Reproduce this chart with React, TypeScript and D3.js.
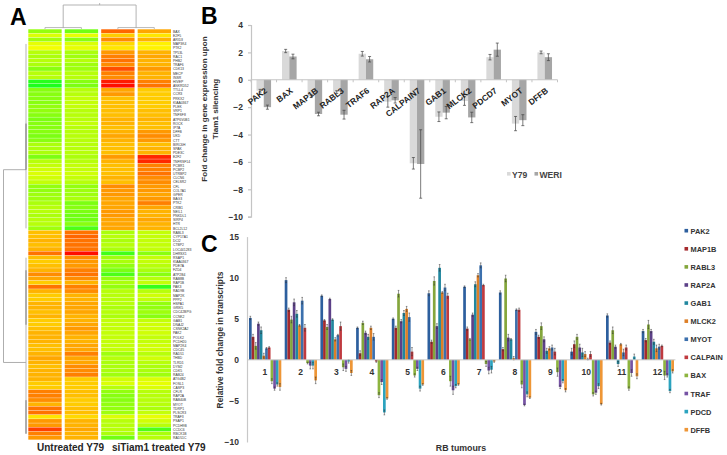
import React, { useRef, useEffect } from "react";
import * as d3 from "d3";

const FONT = "'Liberation Sans', Arial, sans-serif";

// panel A
const geneLabels = [
  "BAX", "E2F5", "ARID3", "MAP3K4", "PTK2", "TP53L", "RAC1", "PHB2", "TRAF6", "CDK13",
  "MECP", "INSR", "HIVEP", "ANKRD52", "TTLL4", "CCR3", "PRKX2", "KIAA0367", "PLEK", "VRP1",
  "TNFSF8", "ATP6V0B1", "ROCK", "IP7A", "DFFB", "UKD", "CTT", "BIRC6H", "SPAK", "PDE3C",
  "E2F2", "TNFRSF14", "PCBR1", "PCBP2", "UTRBP2", "CLCN6", "CELSR2", "CFL", "COL7A1", "GPER",
  "BAG3", "PTK2", "CRIB1", "NEIL1", "PNKDL1", "SIRP4", "HTR", "BCL2L12",
  "RABL3", "CYP17A1", "DCI2", "CTBP2", "LOC441283", "DHRSX1", "RSAP1", "KIAA0367", "PDE7A", "FZD4",
  "ATP2B4", "RAB8B", "RAP1B", "PAK3", "RAD9B", "MAP2K", "PPP2", "HSPA1", "GRIK5", "CDC42BPG",
  "CCNK2", "GAB1", "DNAJ2", "CSNK2A2", "PAK2", "POLK2", "PCDH20", "MAP2K4", "CDC45", "RAD51",
  "THBD", "TLRD1", "DYM2", "CDK5", "RAB24", "ATG4B2", "FOSL1", "CASP3", "CFLR", "RAP2A",
  "RAB40B", "MYOT", "TDRP1", "PLSCR3", "TRAF3", "PSAP1", "PCDH9B", "CCDC6", "RBCK1B", "RAD51C",
];
const heatUntreated1 = [
  -.45, -.15, -.4, -.1, -.05, -.3, -.35, -.3, -.35, -.5,
  -.3, -.3, -.9, -.95, -.5, -.5, -.5, -.5, -.45, -.45,
  -.5, -.55, -.5, -.5, -.5, -.55, -.5, -.35, -.35, -.35,
  -.55, -.3, -.25, -.2, -.15, -.2, -.25, -.45, -.45, -.4,
  -.4, -.35, -.3, -.3, -.35, -.3, -.3, -.4,
  .25, .25, .3, .25, .3, .55, .25, .2, .25, .3,
  .45, .35, .2, .55, .3, .2, .2, .3, .3, .25,
  .3, .2, .2, .25, .3, .3, .3, .25, .25, .3,
  .35, .3, .25, .3, .3, .3, .2, .2, .5, .5,
  .45, .3, .55, .55, .1, .4, .4, .75, .5, .4,
];
const heatUntreated2 = [
  -.6, -.1, -.5, -.15, -.1, -.35, -.4, -.3, -.4, -.4,
  -.3, -.3, -.5, -.55, -.3, -.3, -.25, -.25, -.25, -.3,
  -.3, -.3, -.25, -.3, -.3, -.3, -.3, -.3, -.3, -.3,
  -.35, -.3, -.25, -.25, -.2, -.25, -.3, -.45, -.4, -.4,
  -.35, -.55, -.5, -.55, -.6, -.6, -.5, -.75,
  .55, .6, .55, .55, .55, .95, .45, .4, .4, .5,
  .55, .45, .3, .5, .45, .3, .3, .35, .35, .35,
  .3, .3, .35, .4, .35, .3, .3, .35, .35, .5,
  .35, .35, .45, .45, .5, .2, .2, .2, .25, .25,
  .2, .2, .25, .25, .15, .3, .3, .35, .3, .3,
];
const heatTreated1 = [
  .6, .2, .45, .15, .1, .4, .5, .55, .45, .7,
  .5, .45, .9, .95, .35, .4, .25, .25, .25, .25,
  .25, .3, .3, .25, .3, .35, .3, .25, .25, .25,
  .4, .3, .25, .25, .25, .3, .25, .45, .4, .4,
  .35, .35, .35, .4, .4, .35, .35, .35,
  -.35, -.3, -.35, -.3, -.35, -.8, -.4, -.35, -.45, -.55,
  -.75, -.45, -.35, -.45, -.3, -.3, -.3, -.3, -.35, -.3,
  -.35, -.25, -.25, -.25, -.25, -.25, -.25, -.25, -.25, -.4,
  -.3, -.35, -.35, -.35, -.4, -.2, -.15, -.3, -.45, -.5,
  -.5, -.45, -.45, -.4, -.15, -.3, -.3, -.3, -.35, -.6,
];
const heatTreated2 = [
  .35, .1, .3, .05, .05, .3, .35, .3, .3, .4,
  .3, .3, .5, .55, .2, .2, .2, .2, .2, .25,
  .25, .3, .25, .25, .4, .45, .4, .25, .3, .3,
  .85, .85, .5, .5, .55, .45, .45, .4, .4, .35,
  .4, .5, .35, .3, .3, .35, .3, .3,
  -.25, -.25, -.25, -.25, -.25, -.5, -.25, -.25, -.3, -.35,
  -.5, -.3, -.25, -.85, -.3, -.2, -.25, -.45, -.45, -.4,
  -.5, -.25, -.2, -.2, -.2, -.25, -.25, -.2, -.2, -.3,
  -.2, -.3, -.35, -.35, -.4, -.15, -.1, -.15, -.3, -.3,
  -.3, -.3, -.35, -.25, -.1, -.2, -.3, -.75, -.35, -.3,
];
const heatColumns = [heatUntreated1, heatUntreated2, heatTreated1, heatTreated2];

// panel B
const silencedGenes = ["PAK2", "BAX", "MAP1B", "RABL3", "TRAF6", "RAP2A", "CALPAIN7", "GAB1", "MLCK2", "PDCD7", "MYOT", "DFFB"];
const y79Values = [-0.8, 2.1, -1.2, -0.9, 1.9, -1.6, -6.1, -2.7, -1.55, 1.65, -3.2, 2.0];
const y79Errors = [0.1, 0.12, 0.1, 0.1, 0.17, 0.4, 0.42, 0.35, 0.32, 0.2, 0.52, 0.1];
const weriValues = [-2.0, 1.7, -2.5, -2.55, 1.5, -1.5, -6.15, -2.4, -2.75, 2.2, -2.95, 1.65];
const weriErrors = [0.15, 0.17, 0.13, 0.32, 0.2, 0.2, 2.5, 0.45, 0.38, 0.48, 0.4, 0.25];

// panel C
const tumourLabels = ["1", "2", "3", "4", "5", "6", "7", "8", "9", "10", "11", "12"];
const transcriptGenes = ["PAK2", "MAP1B", "RABL3", "RAP2A", "GAB1", "MLCK2", "MYOT", "CALPAIN", "BAX", "TRAF", "PDCD", "DFFB"];
const transcriptColors = ["#2d5f9e", "#a52a2e", "#84a63c", "#5c4088", "#21879f", "#dd7f27", "#3c70ad", "#bf3a3f", "#8db43f", "#7653a4", "#2ba3bf", "#ee9636"];
const foldByTumour = [
  [5.1, 2.8, 1.7, 4.4, 3.6, 0.5, 1.4, 1.5, -2.6, -3.5, -3.0, -3.3],
  [9.7, 6.1, 4.9, 7.0, 5.6, 4.2, 7.2, 3.9, -0.4, -0.7, -0.7, -2.5],
  [7.8, 4.8, 4.0, 7.4, 4.9, 2.5, 3.0, 4.1, -0.9, -1.1, -0.2, -1.6],
  [3.9, 0.8, 4.5, 3.3, 2.8, 3.9, 2.8, -0.2, -4.3, -2.7, -6.4, -4.7],
  [5.0, 3.9, 8.05, 4.7, 5.7, 6.2, 5.2, 1.0, -1.9, -1.1, -3.5, -3.0],
  [8.1, 2.2, 9.6, 4.1, 11.2, 8.2, 8.8, 7.8, -2.6, -3.7, -3.2, -3.0],
  [8.9, 3.8, 2.5, 5.5, 9.2, 10.3, 11.5, 9.1, -0.5, -1.3, -1.2, -0.2],
  [8.2, 1.3, 9.9, 2.7, 2.5, 0.2, 6.1, 6.1, -3.0, -5.5, -4.2, -4.6],
  [3.4, 2.8, 4.1, 2.5, 1.1, 1.4, 1.5, 1.0, -1.5, -3.3, -2.6, -3.7],
  [1.0, 1.9, 2.8, 1.5, 0.9, 0.7, 0.1, 0.7, -4.2, -4.0, -3.2, -5.4],
  [5.4, 2.1, 3.6, 1.6, -0.5, 1.9, 0.9, 1.5, -3.5, -1.6, 0.4, -2.0],
  [3.5, 2.4, 4.3, 3.5, 2.2, 1.4, 1.6, 1.7, -1.9, -1.9, -3.8, -1.4],
];
const errorByTumour = [
  [.2, .3, .4, .2, .4, .3, .1, .1, .3, .2, .2, .4],
  [.3, .2, .4, .4, .4, .1, .4, .4, .1, .4, .4, .4],
  [.1, .1, .3, .1, .1, .2, .1, .5, .4, .3, .2, .3],
  [.1, .3, .2, .2, .3, .2, .4, .1, .3, .3, .3, .1],
  [.1, .2, .4, .2, .3, .3, .5, .5, .2, .2, .3, .1],
  [.3, .2, .5, .3, .4, .1, .4, .3, .6, .5, .2, .1],
  [.1, .2, .1, .2, .3, .2, .3, .1, .3, .4, .4, .1],
  [.2, .2, .4, .4, .1, .2, .1, .2, .4, .1, .3, .1],
  [.3, .2, .4, .3, .3, .2, .3, .4, .5, .2, .2, .2],
  [.4, .4, .3, .4, .5, .3, .1, .3, .2, .2, .3, .1],
  [.2, .2, .4, .2, .3, .1, .4, .3, .2, .4, .3, .3],
  [.2, .2, .5, .2, .3, .4, .3, .1, .5, .2, .2, .2],
];

export default function App() {
  const svgRef = useRef<SVGSVGElement | null>(null);

  useEffect(() => {
    const svg = d3.select(svgRef.current);
    svg.selectAll("*").remove();
    svg.style("font-family", FONT);

    const text = (x: number, y: number, s: string, size: number, anchor = "start", weight = "bold", fill = "#262626") =>
      svg
        .append("text")
        .attr("x", x)
        .attr("y", y)
        .attr("font-size", size)
        .attr("font-weight", weight)
        .attr("text-anchor", anchor)
        .attr("fill", fill)
        .text(s);

    text(10, 25, "A", 23, "start", "bold", "#000");
    text(201, 24, "B", 23, "start", "bold", "#000");
    text(201, 252, "C", 23, "start", "bold", "#000");

    // heat map
    const col = d3.scaleBand<number>().domain([0, 1, 2, 3]).range([28.3, 171]).paddingInner(0.085);
    const row = d3.scaleBand<number>().domain(d3.range(geneLabels.length)).range([29.3, 440]);
    const heat = d3.scaleLinear<string>().domain([-1, 0, 1]).range(["#10ff20", "#ffff00", "#ff0000"]);

    heatColumns.forEach((values, c) => {
      svg
        .append("g")
        .selectAll("rect")
        .data(values)
        .join("rect")
        .attr("x", col(c) as number)
        .attr("width", col.bandwidth())
        .attr("y", (_, i) => row(i) as number)
        .attr("height", row.bandwidth() - 0.35)
        .attr("fill", (d) => heat(d));
    });
    svg
      .append("g")
      .selectAll("text")
      .data(geneLabels)
      .join("text")
      .attr("x", 173)
      .attr("y", (_, i) => (row(i) as number) + row.bandwidth() / 2 + 1.2)
      .attr("font-size", 3.4)
      .attr("fill", "#333")
      .text((d) => d);

    // dendrograms, in column and row units
    const link = d3
      .line<[number, number]>()
      .x((d) => d[0])
      .y((d) => d[1]);
    const colMid = (c: number) => (col(c) as number) + col.bandwidth() / 2;
    const top = d3.scaleLinear().domain([0, 1]).range([29, 5]);
    const topLinks: [number, number, number][] = [
      [0, 1, 0.06],
      [2, 3, 0.06],
    ];
    topLinks.forEach(([a, b, h]) => {
      svg
        .append("path")
        .attr("d", link([[colMid(a), top(0)], [colMid(a), top(h)], [colMid(b), top(h)], [colMid(b), top(0)]]))
        .attr("fill", "none")
        .attr("stroke", "#aaa")
        .attr("stroke-width", 0.8);
    });
    const leftMid = (colMid(0) + colMid(1)) / 2;
    const rightMid = (colMid(2) + colMid(3)) / 2;
    svg
      .append("path")
      .attr("d", link([[leftMid, top(0.04)], [leftMid, top(1)], [rightMid, top(1)], [rightMid, top(0.04)]]))
      .attr("fill", "none")
      .attr("stroke", "#aaa")
      .attr("stroke-width", 0.9);
    svg
      .append("path")
      .attr("d", link([[(leftMid + rightMid) / 2, top(1)], [(leftMid + rightMid) / 2, top(1.08)]]))
      .attr("stroke", "#aaa")
      .attr("stroke-width", 0.9);

    const side = d3.scaleLinear().domain([0, 1]).range([26, 3.5]);
    const rowEdge = (r: number) => (row(r) as number) + row.bandwidth() / 2;
    svg
      .append("path")
      .attr("d", link([[side(0), rowEdge(33)], [side(1), rowEdge(33)], [side(1), rowEdge(79)], [side(0), rowEdge(79)]]))
      .attr("fill", "none")
      .attr("stroke", "#999")
      .attr("stroke-width", 0.8);
    const trunks: [number, number, string][] = [
      [3, 47, "#aaa"],
      [22, 33, "#666"],
      [54, 96, "#aaa"],
      [57, 70, "#777"],
      [88, 96, "#777"],
    ];
    trunks.forEach(([a, b, stroke]) => {
      svg
        .append("line")
        .attr("x1", side(0))
        .attr("x2", side(0))
        .attr("y1", rowEdge(a))
        .attr("y2", rowEdge(b))
        .attr("stroke", stroke)
        .attr("stroke-width", 0.9);
    });

    text(37, 451, "Untreated Y79", 10);
    text(112, 451, "siTiam1 treated Y79", 10);

    // panel B
    const xB = d3.scaleBand<string>().domain(silencedGenes).range([251, 557.5]);
    const yB = d3.scaleLinear().domain([-10, 4]).range([216.7, 25]);
    const gB = svg.append("g");
    const axisB = gB
      .append("g")
      .attr("transform", "translate(251,0)")
      .call(d3.axisLeft(yB).tickValues(d3.range(-10, 5, 2)).tickSize(3).tickPadding(5));
    axisB.selectAll("path,line").attr("stroke", "#c4c4c4").attr("stroke-width", 1.2);
    axisB.selectAll("text").attr("font-size", 8.5).attr("font-weight", "bold").attr("font-family", FONT).attr("fill", "#333");

    const barW = 7.3;
    const seriesB = [
      { values: y79Values, errors: y79Errors, fill: "#d9d9d9", dx: -barW },
      { values: weriValues, errors: weriErrors, fill: "#a6a6a6", dx: 0 },
    ];
    seriesB.forEach((s) => {
      const mid = (i: number) => (xB(silencedGenes[i]) as number) + xB.bandwidth() / 2 + s.dx;
      gB.append("g")
        .selectAll("rect")
        .data(s.values)
        .join("rect")
        .attr("x", (_, i) => mid(i))
        .attr("width", barW)
        .attr("y", (d) => yB(Math.max(d, 0)))
        .attr("height", (d) => Math.abs(yB(d) - yB(0)))
        .attr("fill", s.fill);
    });
    gB.append("line").attr("x1", 251).attr("x2", 557.5).attr("y1", yB(0)).attr("y2", yB(0)).attr("stroke", "#c4c4c4").attr("stroke-width", 1.1);
    gB.append("g")
      .selectAll("line")
      .data(d3.range(silencedGenes.length + 1))
      .join("line")
      .attr("x1", (i) => 251 + i * xB.step())
      .attr("x2", (i) => 251 + i * xB.step())
      .attr("y1", yB(0))
      .attr("y2", yB(0) + 2.5)
      .attr("stroke", "#c4c4c4");
    seriesB.forEach((s) => {
      s.values.forEach((v, i) => {
        const cx = (xB(silencedGenes[i]) as number) + xB.bandwidth() / 2 + s.dx + barW / 2;
        const hi = yB(v + s.errors[i]);
        const lo = yB(v - s.errors[i]);
        gB.append("path")
          .attr("d", `M${cx - 1.5},${hi}H${cx + 1.5}M${cx},${hi}V${lo}M${cx - 1.5},${lo}H${cx + 1.5}`)
          .attr("fill", "none")
          .attr("stroke", "#444")
          .attr("stroke-width", 0.7);
      });
    });
    silencedGenes.forEach((g) => {
      const cx = (xB(g) as number) + xB.bandwidth() / 2 + 4;
      svg
        .append("text")
        .attr("transform", `translate(${cx},${yB(0) + 12}) rotate(-38)`)
        .attr("text-anchor", "end")
        .attr("font-size", 8.4)
        .attr("font-weight", "bold")
        .attr("fill", "#222")
        .text(g);
    });
    const vertical = (x: number, y: number, s: string, size: number) =>
      svg
        .append("text")
        .attr("transform", `translate(${x},${y}) rotate(-90)`)
        .attr("text-anchor", "middle")
        .attr("font-size", size)
        .attr("font-weight", "bold")
        .attr("fill", "#333")
        .text(s);
    vertical(207, 109, "Fold change in gene expression upon", 8.1);
    vertical(218, 109, "Tiam1 silencing", 8.1);

    const legendB = [
      { label: "Y79", fill: "#d9d9d9", x: 507 },
      { label: "WERI", fill: "#a6a6a6", x: 534.5 },
    ];
    legendB.forEach((l) => {
      svg.append("rect").attr("x", l.x).attr("y", 172).attr("width", 3.6).attr("height", 3.6).attr("fill", l.fill);
      text(l.x + 5, 177.5, l.label, 8.6, "start", "bold", "#444");
    });

    // panel C
    const x0 = d3.scaleBand<string>().domain(tumourLabels).range([247, 675.4]);
    const x1 = d3.scaleBand<string>().domain(transcriptGenes).range([2, x0.bandwidth() - 1.4]);
    const yC = d3.scaleLinear().domain([-10, 15]).range([442, 236.6]);
    const gC = svg.append("g");
    const axisC = gC
      .append("g")
      .attr("transform", "translate(247,0)")
      .call(d3.axisLeft(yC).tickValues(d3.range(-10, 16, 5)).tickSize(0).tickPadding(8));
    axisC.select("path").attr("stroke", "#c8c8c8").attr("stroke-width", 1.2);
    axisC.selectAll("text").attr("font-size", 8.5).attr("font-weight", "bold").attr("font-family", FONT).attr("fill", "#333");

    foldByTumour.forEach((values, t) => {
      const left = x0(tumourLabels[t]) as number;
      const group = gC.append("g").attr("transform", `translate(${left},0)`);
      group
        .selectAll("rect")
        .data(values)
        .join("rect")
        .attr("x", (_, i) => x1(transcriptGenes[i]) as number)
        .attr("width", x1.bandwidth())
        .attr("y", (d) => yC(Math.max(d, 0)))
        .attr("height", (d) => Math.abs(yC(d) - yC(0)))
        .attr("fill", (_, i) => transcriptColors[i]);
      group
        .selectAll("path")
        .data(values)
        .join("path")
        .attr("d", (d, i) => {
          const cx = (x1(transcriptGenes[i]) as number) + x1.bandwidth() / 2;
          const hi = yC(d + errorByTumour[t][i]);
          const lo = yC(d - errorByTumour[t][i]);
          return `M${cx - 0.8},${hi}H${cx + 0.8}M${cx},${hi}V${lo}M${cx - 0.8},${lo}H${cx + 0.8}`;
        })
        .attr("fill", "none")
        .attr("stroke", "#333")
        .attr("stroke-width", 0.5);
      text(left + x0.bandwidth() / 2, yC(0) + 15, tumourLabels[t], 8.5, "middle", "bold", "#333");
    });
    gC.append("line").attr("x1", 247).attr("x2", 675.4).attr("y1", yC(0)).attr("y2", yC(0)).attr("stroke", "#c8c8c8").attr("stroke-width", 1);

    vertical(223, 340, "Relative fold change in transcripts", 8.4);
    text(461, 451, "RB tumours", 8.8, "middle", "bold", "#333");

    const legendY = d3.scalePoint<string>().domain(transcriptGenes).range([230.7, 429.7]);
    transcriptGenes.forEach((g, i) => {
      const y = legendY(g) as number;
      svg.append("rect").attr("x", 684.5).attr("y", y - 1.8).attr("width", 3.6).attr("height", 3.6).attr("fill", transcriptColors[i]);
      text(690.5, y + 3, g, 7.4, "start", "bold", "#333");
    });
  }, []);

  return (
    <svg
      ref={svgRef}
      width={727}
      height={455}
      viewBox="0 0 727 455"
      style={{ position: "absolute", left: 0, top: 0, background: "#fff" }}
    />
  );
}
